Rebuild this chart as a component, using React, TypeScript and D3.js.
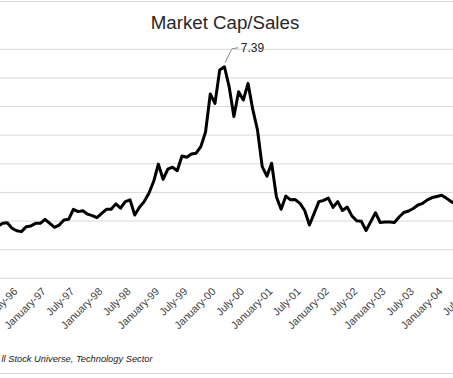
import React from 'react';
import * as d3 from 'd3';

// Monthly Market Cap / Sales, Technology Sector, starting January 1996
const values: number[] = [
  1.75, 1.72, 1.81, 1.92, 1.94, 1.75, 1.66, 1.63, 1.80, 1.83,
  1.92, 1.92, 2.06, 1.92, 1.78, 1.86, 2.04, 2.06, 2.41, 2.33,
  2.36, 2.24, 2.19, 2.12, 2.27, 2.41, 2.41, 2.60, 2.45, 2.68,
  2.74, 2.21, 2.48, 2.68, 2.97, 3.38, 3.99, 3.46, 3.81, 3.88,
  3.76, 4.27, 4.23, 4.34, 4.37, 4.60, 5.11, 6.44, 6.11, 7.28,
  7.39, 6.69, 5.65, 6.52, 6.23, 6.81, 5.90, 5.18, 3.90, 3.57,
  4.02, 2.85, 2.41, 2.87, 2.74, 2.75, 2.62, 2.37, 1.86, 2.27,
  2.68, 2.72, 2.80, 2.48, 2.68, 2.37, 2.49, 2.18, 2.01, 1.99,
  1.67, 1.98, 2.29, 1.95, 1.97, 1.97, 1.95, 2.14, 2.30, 2.35,
  2.44, 2.56, 2.62, 2.74, 2.82, 2.86, 2.90, 2.80, 2.68, 2.60,
];

const tickLabels: string[] = [
  'January-96', 'July-96', 'January-97', 'July-97', 'January-98', 'July-98',
  'January-99', 'July-99', 'January-00', 'July-00', 'January-01', 'July-01',
  'January-02', 'July-02', 'January-03', 'July-03', 'January-04', 'July-04',
];
const tickStep = 6; // months between labels

const yTicks: number[] = [0, 1, 2, 3, 4, 5, 6, 7, 8];

const title = 'Market Cap/Sales';
const footnote = 'll Stock Universe, Technology Sector';
const peakLabel = '7.39';

export default function App() {
  const W = 453;
  const H = 378;
  const x = d3.scaleLinear().domain([48, 96]).range([215, 441.6]);
  const y = d3.scaleLinear().domain([0, 8]).range([278.3, 49.3]);

  const line = d3
    .line<number>()
    .x((_, i) => x(i))
    .y((d) => y(d));

  const peakIdx = values.indexOf(d3.max(values) as number);
  const px = x(peakIdx);
  const py = y(values[peakIdx]);

  const font = '"Liberation Sans", Arial, sans-serif';

  return (
    <svg
      width={W}
      height={H}
      style={{ position: 'absolute', left: 0, top: 0, background: '#fff' }}
      fontFamily={font}
    >
      <rect x={0} y={0} width={W} height={H} fill="#fff" />
      {/* chart border lines */}
      <line x1={0} x2={W} y1={1.5} y2={1.5} stroke="#d9d9d9" strokeWidth={1} />
      <line x1={0} x2={W} y1={373.5} y2={373.5} stroke="#d9d9d9" strokeWidth={1} />

      {/* gridlines */}
      {yTicks.map((t) => (
        <line
          key={t}
          x1={0}
          x2={W}
          y1={y(t)}
          y2={y(t)}
          stroke="#d9d9d9"
          strokeWidth={1}
        />
      ))}

      {/* title */}
      <text x={225} y={29} textAnchor="middle" fontSize={18.7} fill="#262626">
        {title}
      </text>

      {/* series line */}
      <path
        d={line(values) || ''}
        fill="none"
        stroke="#000"
        strokeWidth={3}
        strokeLinejoin="round"
        strokeLinecap="round"
      />

      {/* peak leader + label */}
      <polyline
        points={`${px + 0.5},${py - 4} ${px + 7.5},${py - 18} ${px + 14},${py - 19}`}
        fill="none"
        stroke="#8c8c8c"
        strokeWidth={1}
      />
      <text x={px + 16.3} y={py - 15.2} fontSize={12} fill="#262626">
        {peakLabel}
      </text>

      {/* x tick labels */}
      {tickLabels.map((lab, i) => {
        const tx = x(i * tickStep) + 1.5;
        const ty = 292;
        return (
          <text
            key={lab}
            x={tx}
            y={ty}
            textAnchor="end"
            fontSize={10.7}
            fill="#404040"
            transform={`rotate(-45 ${tx} ${ty})`}
          >
            {lab}
          </text>
        );
      })}

      {/* footnote */}
      <text x={1.5} y={362.3} fontSize={9.3} fontStyle="italic" fill="#1a1a1a">
        {footnote}
      </text>
    </svg>
  );
}
